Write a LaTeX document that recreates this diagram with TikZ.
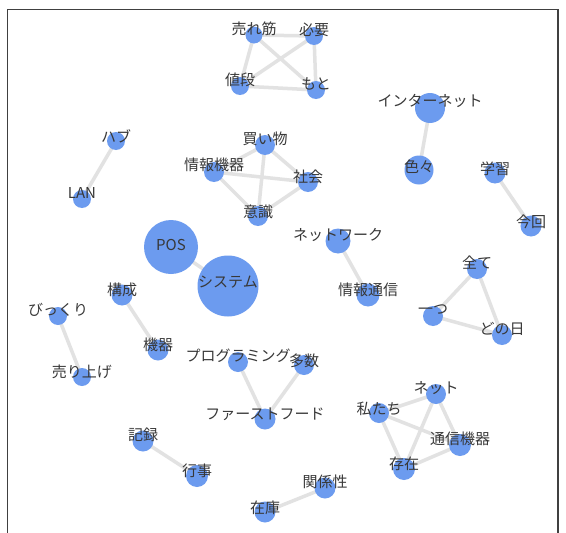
\documentclass[tikz,border=0pt]{standalone}
\usepackage{fontspec}
\newfontfamily\jp{Noto Sans CJK JP}
\begin{document}
\begin{tikzpicture}[x=1pt,y=-1pt,
  nd/.style={circle,fill=nodeblue,draw=none,inner sep=0pt,minimum size=#1},
  nd/.default=20pt,
  ed/.style={draw=edgegray,line width=3.5pt},
  lb/.style={font=\jp\fontsize{15}{15}\selectfont,text=black!78,inner sep=0pt}]
\definecolor{nodeblue}{HTML}{6C9BEF}
\definecolor{edgegray}{HTML}{E2E2E2}
\useasboundingbox (0,0) rectangle (566,533);
\fill[white] (0,0) rectangle (566,533);
\draw[line width=1.4pt,black!75] (7.5,533) -- (7.5,9.5) -- (558,9.5) -- (558,533);
% node positions
\coordinate (a1) at (254,35);
\coordinate (a2) at (314,36);
\coordinate (a3) at (240,86);
\coordinate (a4) at (316,90);
\coordinate (b1) at (430,108);
\coordinate (b2) at (419,170);
\coordinate (c1) at (495,173);
\coordinate (c2) at (531,226);
\coordinate (d1) at (116,141);
\coordinate (d2) at (82,199);
\coordinate (e1) at (265,145);
\coordinate (e2) at (214,172);
\coordinate (e3) at (308,182);
\coordinate (e4) at (258,216);
\coordinate (f1) at (171,247);
\coordinate (f2) at (228,286);
\coordinate (g1) at (338,241);
\coordinate (g2) at (368,295);
\coordinate (h1) at (477,269);
\coordinate (h2) at (433,316);
\coordinate (h3) at (502,335);
\coordinate (i1) at (122,295);
\coordinate (i2) at (158,350);
\coordinate (j1) at (58,316);
\coordinate (j2) at (82,377);
\coordinate (k1) at (238,362);
\coordinate (k2) at (304,365);
\coordinate (k3) at (265,419);
\coordinate (m1) at (436,394);
\coordinate (m2) at (379,413);
\coordinate (m3) at (460,445);
\coordinate (m4) at (404,469);
\coordinate (n1) at (143,441);
\coordinate (n2) at (197,476);
\coordinate (o1) at (325,488);
\coordinate (o2) at (265,512);
% edges
\draw[ed] (a1)--(a2) (a1)--(a3) (a1)--(a4) (a2)--(a3) (a2)--(a4) (a3)--(a4);
\draw[ed] (b1)--(b2);
\draw[ed] (c1)--(c2);
\draw[ed] (d1)--(d2);
\draw[ed] (e1)--(e2) (e1)--(e3) (e1)--(e4) (e2)--(e3) (e2)--(e4) (e3)--(e4);
\draw[ed] (f1)--(f2);
\draw[ed] (g1)--(g2);
\draw[ed] (h1)--(h2) (h1)--(h3) (h2)--(h3);
\draw[ed] (i1)--(i2);
\draw[ed] (j1)--(j2);
\draw[ed] (k1)--(k3) (k2)--(k3);
\draw[ed] (m1)--(m2) (m1)--(m3) (m1)--(m4) (m2)--(m3) (m2)--(m4) (m3)--(m4);
\draw[ed] (n1)--(n2);
\draw[ed] (o1)--(o2);
% nodes
\node[nd=17pt] (na1) at (a1) {};
\node[nd=18pt] (na2) at (a2) {};
\node[nd=18pt] (na3) at (a3) {};
\node[nd=18pt] (na4) at (a4) {};
\node[nd=30pt] (nb1) at (b1) {};
\node[nd=29pt] (nb2) at (b2) {};
\node[nd=21pt] (nc1) at (c1) {};
\node[nd=21pt] (nc2) at (c2) {};
\node[nd=18pt] (nd1) at (d1) {};
\node[nd=18pt] (nd2) at (d2) {};
\node[nd=20pt] (ne1) at (e1) {};
\node[nd=20pt] (ne2) at (e2) {};
\node[nd=20pt] (ne3) at (e3) {};
\node[nd=20pt] (ne4) at (e4) {};
\node[nd=54pt] (nf1) at (f1) {};
\node[nd=61pt] (nf2) at (f2) {};
\node[nd=25pt] (ng1) at (g1) {};
\node[nd=23pt] (ng2) at (g2) {};
\node[nd=20pt] (nh1) at (h1) {};
\node[nd=20pt] (nh2) at (h2) {};
\node[nd=20pt] (nh3) at (h3) {};
\node[nd=21pt] (ni1) at (i1) {};
\node[nd=21pt] (ni2) at (i2) {};
\node[nd=18pt] (nj1) at (j1) {};
\node[nd=18pt] (nj2) at (j2) {};
\node[nd=20pt] (nk1) at (k1) {};
\node[nd=20pt] (nk2) at (k2) {};
\node[nd=21pt] (nk3) at (k3) {};
\node[nd=20pt] (nm1) at (m1) {};
\node[nd=20pt] (nm2) at (m2) {};
\node[nd=22pt] (nm3) at (m3) {};
\node[nd=22pt] (nm4) at (m4) {};
\node[nd=21pt] (nn1) at (n1) {};
\node[nd=22pt] (nn2) at (n2) {};
\node[nd=21pt] (no1) at (o1) {};
\node[nd=21pt] (no2) at (o2) {};
% labels
\node[lb] (la1) at ([yshift=6pt]a1) {売れ筋};
\node[lb] (la2) at ([yshift=6pt]a2) {必要};
\node[lb] (la3) at ([yshift=6pt]a3) {値段};
\node[lb] (la4) at ([yshift=6pt]a4) {もと};
\node[lb] (lb1) at ([yshift=7pt]b1) {インターネット};
\node[lb] (lb2) at ([yshift=3pt]b2) {色々};
\node[lb] (lc1) at ([yshift=4pt]c1) {学習};
\node[lb] (lc2) at ([yshift=4pt]c2) {今回};
\node[lb] (ld1) at ([yshift=5pt]d1) {ハブ};
\node[lb] (ld2) at ([yshift=6pt]d2) {LAN};
\node[lb] (le1) at ([yshift=6pt]e1) {買い物};
\node[lb] (le2) at ([yshift=7pt]e2) {情報機器};
\node[lb] (le3) at ([yshift=5pt]e3) {社会};
\node[lb] (le4) at ([yshift=4pt]e4) {意識};
\node[lb] (lf1) at ([yshift=2pt]f1) {POS};
\node[lb] (lf2) at ([yshift=4pt]f2) {システム};
\node[lb] (lg1) at ([yshift=6pt]g1) {ネットワーク};
\node[lb] (lg2) at ([yshift=5pt]g2) {情報通信};
\node[lb] (lh1) at ([yshift=6pt]h1) {全て};
\node[lb] (lh2) at ([yshift=6pt]h2) {一つ};
\node[lb] (lh3) at ([yshift=6pt]h3) {どの日};
\node[lb] (li1) at ([yshift=5pt]i1) {構成};
\node[lb] (li2) at ([yshift=5pt]i2) {機器};
\node[lb] (lj1) at ([yshift=6pt]j1) {びっくり};
\node[lb] (lj2) at ([yshift=5pt]j2) {売り上げ};
\node[lb] (lk1) at ([yshift=6pt]k1) {プログラミング};
\node[lb] (lk2) at ([yshift=4pt]k2) {多数};
\node[lb] (lk3) at ([yshift=5pt]k3) {ファーストフード};
\node[lb] (lm1) at ([yshift=6pt]m1) {ネット};
\node[lb] (lm2) at ([yshift=4pt]m2) {私たち};
\node[lb] (lm3) at ([yshift=6pt]m3) {通信機器};
\node[lb] (lm4) at ([yshift=5pt]m4) {存在};
\node[lb] (ln1) at ([yshift=6pt]n1) {記録};
\node[lb] (ln2) at ([yshift=5pt]n2) {行事};
\node[lb] (lo1) at ([yshift=6pt]o1) {関係性};
\node[lb] (lo2) at ([yshift=4pt]o2) {在庫};
\end{tikzpicture}
\end{document}
